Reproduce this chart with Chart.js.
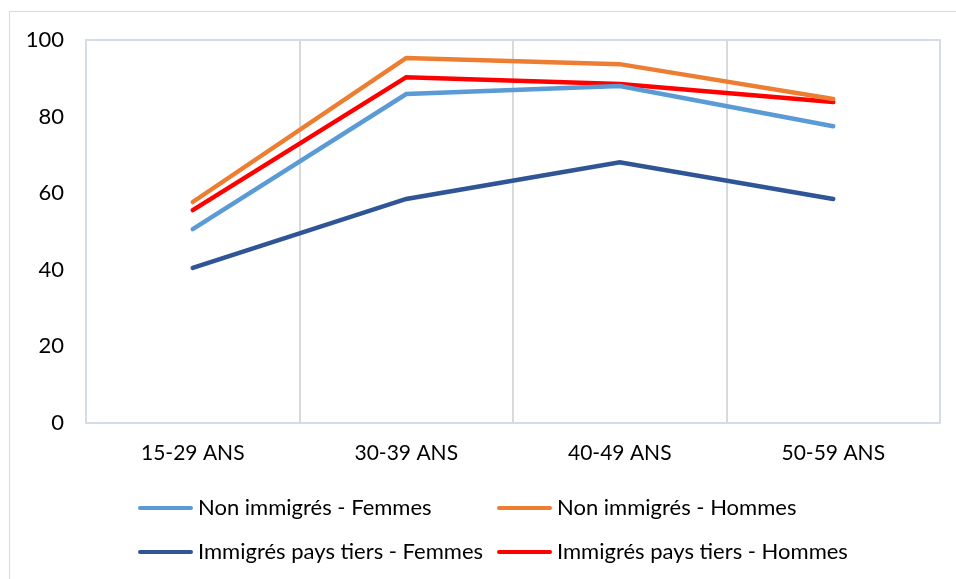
<!DOCTYPE html>
<html>
<head>
<meta charset="utf-8">
<script src="https://cdn.jsdelivr.net/npm/chart.js@4"></script>
<style>
  body { margin: 0; background: #fff; }
  #wrap { position: relative; width: 956px; height: 579px; }
  #frame { position: absolute; left: 9px; top: 11px; width: 950px; height: 570px; border: 1px solid #d9d9d9; box-sizing: border-box; }
  #chart { position: absolute; left: 0; top: 0; }
  .leg { position: absolute; font-family: Lato, sans-serif; font-size: 22px; color: #000; white-space: nowrap; line-height: 24px; }
  .leg span.swatch { display: inline-block; width: 55px; height: 4px; border-radius: 2px; vertical-align: middle; margin-right: 5px; position: relative; top: -1px; }
</style>
</head>
<body>
<div id="wrap">
  <div id="frame"></div>
  <canvas id="chart" width="956" height="579"></canvas>
  <div id="legend"></div>
</div>
<script>
const categories = ["15-29 ANS", "30-39 ANS", "40-49 ANS", "50-59 ANS"];
const seriesNames = [
    "Non immigrés - Femmes",
    "Non immigrés - Hommes",
    "Immigrés pays tiers - Femmes",
    "Immigrés pays tiers - Hommes"
];
const nonImmFemmes = [50.6, 85.9, 88.0, 77.5];
const nonImmHommes = [57.7, 95.3, 93.7, 84.6];
const immFemmes = [40.5, 58.5, 68.1, 58.5];
const immHommes = [55.6, 90.3, 88.5, 83.8];
const colors = ["#5B9BD5", "#ED7D31", "#2F5597", "#FF0000"];

const values = [nonImmFemmes, nonImmHommes, immFemmes, immHommes];

// draw order: light blue, orange, dark blue, red on top
const datasets = values.map((v, i) => ({
    label: seriesNames[i],
    data: v,
    borderColor: colors[i],
    backgroundColor: colors[i],
    borderWidth: 4.5,
    pointRadius: 0,
    tension: 0,
    borderCapStyle: 'round',
    fill: false
}));

const plotFrame = {
    id: 'plotFrame',
    beforeDatasetsDraw(chart) {
        const a = chart.chartArea;
        const ctx = chart.ctx;
        ctx.save();
        ctx.strokeStyle = '#D6DCE5';
        ctx.lineWidth = 2;
        ctx.strokeRect(a.left, a.top, a.right - a.left, a.bottom - a.top);
        ctx.restore();
    }
};

new Chart(document.getElementById('chart').getContext('2d'), {
    type: 'line',
    data: { labels: categories, datasets: datasets },
    options: {
        responsive: false,
        animation: false,
        layout: { padding: { left: 0, top: 40, right: 16, bottom: 0 } },
        plugins: {
            legend: { display: false },
            tooltip: { enabled: false }
        },
        scales: {
            x: {
                offset: true,
                grid: { offset: true, color: '#D9D9D9', lineWidth: 2, drawTicks: false },
                border: { display: false },
                ticks: { color: '#000', font: { family: 'Lato', size: 21 }, padding: 18 },
                afterFit: s => { s.height = 156; }
            },
            y: {
                min: 0,
                max: 100,
                grid: { display: false, drawTicks: false },
                border: { display: false },
                ticks: { stepSize: 20, color: '#000', font: { family: 'Lato', size: 22 }, padding: 22 },
                afterFit: s => { s.width = 86; }
            }
        }
    },
    plugins: [plotFrame]
});

// legend, 2 columns
const legPos = [[138, 495], [497, 495], [138, 539], [497, 539]];
const legend = document.getElementById('legend');
seriesNames.forEach((name, i) => {
    const d = document.createElement('div');
    d.className = 'leg';
    d.style.left = legPos[i][0] + 'px';
    d.style.top = legPos[i][1] + 'px';
    const sw = document.createElement('span');
    sw.className = 'swatch';
    sw.style.background = colors[i];
    d.appendChild(sw);
    d.appendChild(document.createTextNode(name));
    legend.appendChild(d);
});
</script>
</body>
</html>
